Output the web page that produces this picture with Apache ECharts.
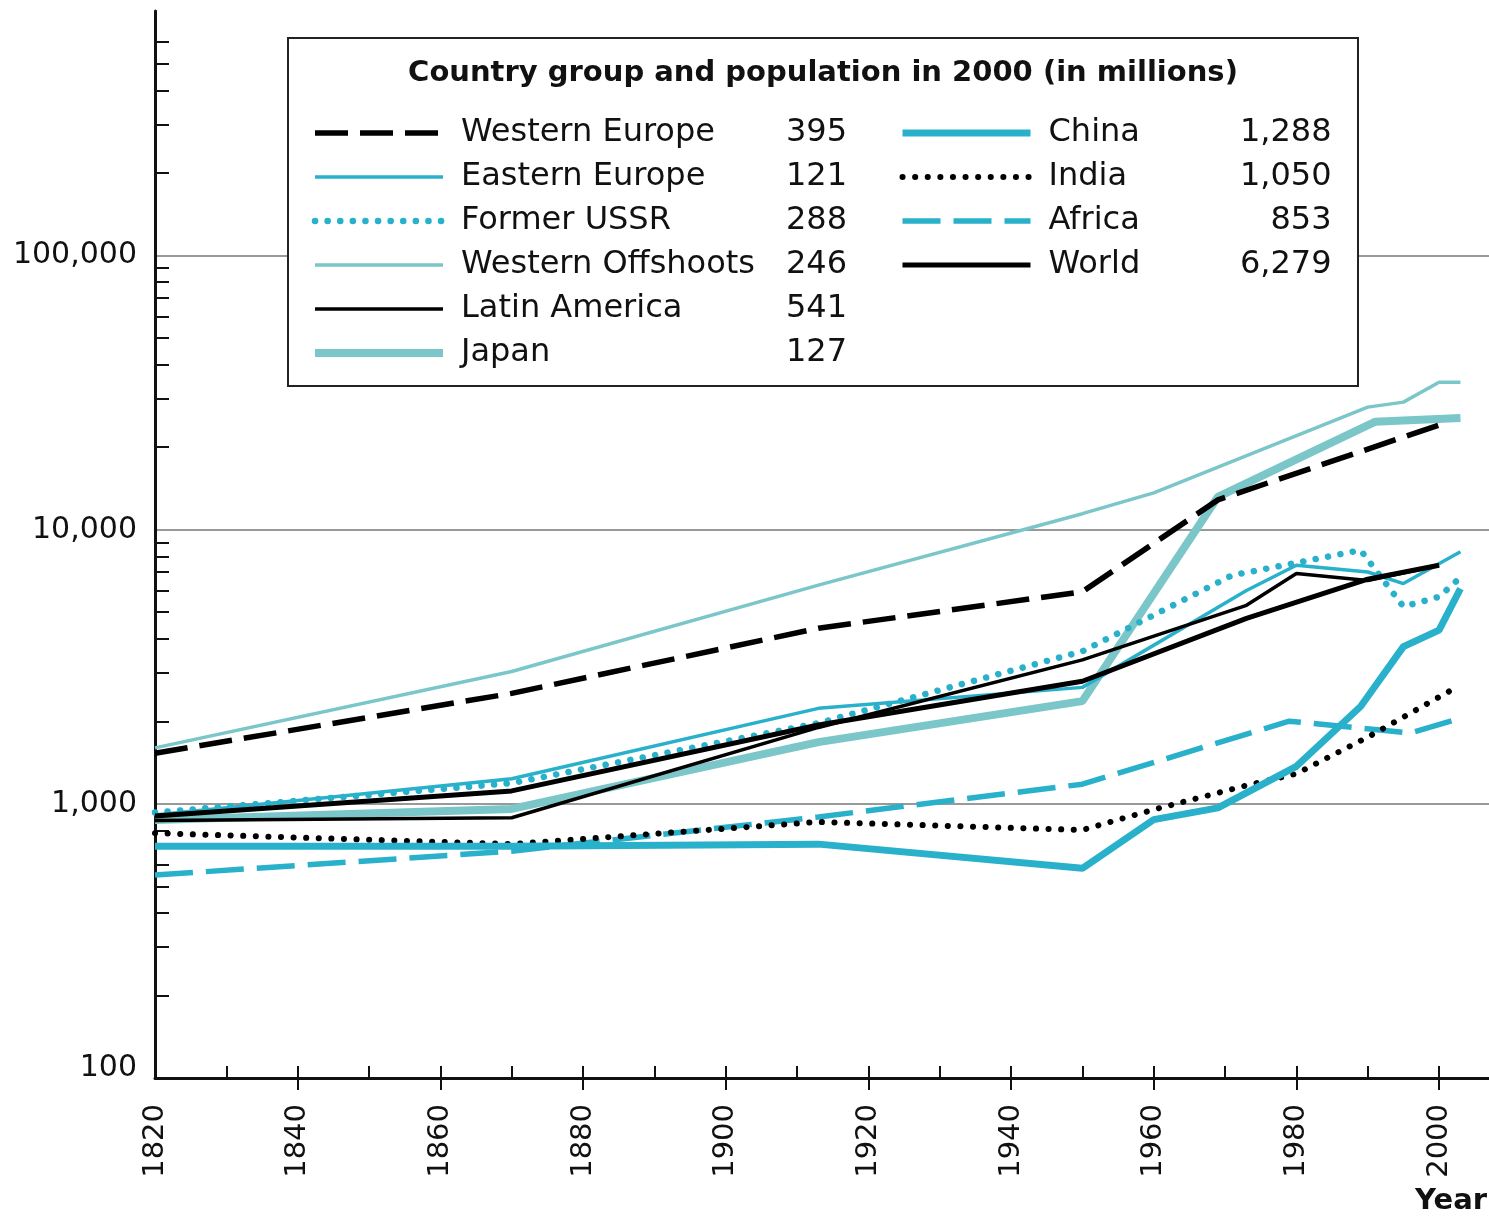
<!DOCTYPE html>
<html>
<head>
<meta charset="utf-8">
<title>Country group and population in 2000</title>
<script src="https://cdn.jsdelivr.net/npm/echarts@6/dist/echarts.min.js"></script>
<style>
  html, body { margin: 0; padding: 0; background: #fff; }
  #chart { width: 1489px; height: 1219px; }
</style>
</head>
<body>
<div id="chart"></div>
<script>
// legend: country group and population in 2000 (in millions)
const names = ['Western Europe', 'Eastern Europe', 'Former USSR', 'Western Offshoots', 'Latin America', 'Japan',
               'China', 'India', 'Africa', 'World'];
const population = ['395', '121', '288', '246', '541', '127', '1,288', '1,050', '853', '6,279'];

// values (log scale)
const westernEuropeYears = [1820, 1870, 1913, 1950, 1969, 2000];
const westernEuropeValues = [1530, 2530, 4370, 5940, 12850, 24100];

const easternEuropeYears = [1820, 1870, 1913, 1950, 1973, 1980, 1990, 1995, 2003];
const easternEuropeValues = [910, 1235, 2230, 2660, 6000, 7420, 7010, 6360, 8310];

const ussrYears = [1820, 1870, 1913, 1950, 1971, 1980, 1989, 1995, 2000, 2003];
const ussrValues = [930, 1190, 1970, 3600, 6820, 7570, 8420, 5240, 5690, 6700];

const offshootsYears = [1820, 1870, 1913, 1950, 1960, 1990, 1995, 2000, 2003];
const offshootsValues = [1600, 3040, 6280, 11440, 13630, 28000, 29200, 34500, 34500];

const latinAmericaYears = [1820, 1870, 1913, 1950, 1973, 1980, 1990, 2000];
const latinAmericaValues = [870, 890, 1900, 3350, 5300, 6920, 6530, 7420];

const japanYears = [1820, 1870, 1913, 1950, 1969, 1991, 2003];
const japanValues = [873, 958, 1680, 2370, 13180, 24750, 25540];

const chinaYears = [1820, 1870, 1913, 1950, 1960, 1969, 1980, 1989, 1995, 2000, 2003];
const chinaValues = [700, 700, 713, 582, 876, 967, 1371, 2265, 3745, 4305, 6100];

const indiaYears = [1820, 1870, 1913, 1950, 1960, 1973, 1980, 1990, 2002];
const indiaValues = [782, 713, 859, 803, 953, 1167, 1288, 1751, 2624];

const africaYears = [1820, 1870, 1913, 1950, 1979, 1996, 2003];
const africaValues = [550, 672, 896, 1180, 2003, 1812, 2055];

const worldYears = [1820, 1870, 1913, 1950, 1973, 1990, 2000];
const worldValues = [903, 1115, 1940, 2800, 4750, 6600, 7420];

// axis ticks
const xLabelYears = [1820, 1840, 1860, 1880, 1900, 1920, 1940, 1960, 1980, 2000];
const xInnerTicks = [1830, 1840, 1850, 1860, 1870, 1880, 1890, 1900, 1910, 1920, 1930, 1940, 1950,
                     1960, 1970, 1980, 1990, 2000];
const xOuterTicks = [1840, 1860, 1880, 1900, 1920, 1940, 1960, 1980, 2000];
const yLabelValues = [100, 1000, 10000, 100000];
const yMinorTicks = [200, 300, 400, 500, 600, 700, 800, 900,
                     2000, 3000, 4000, 5000, 6000, 7000, 8000, 9000,
                     20000, 30000, 40000, 50000, 60000, 70000, 80000, 90000,
                     200000, 300000, 400000, 500000, 600000];

const FONT = 'DejaVu Sans';
const INK = '#111';
const TEAL = '#29b1cc';
const LIGHT = '#7bc6c9';
const Y_MAX = 780000;

const styles = {
    'Western Europe':    { color: '#000', width: 5.5, type: [33, 12] },
    'Eastern Europe':    { color: TEAL, width: 3.5 },
    'Former USSR':       { color: TEAL, width: 6.5, type: [0.1, 12.5], cap: 'round' },
    'Western Offshoots': { color: LIGHT, width: 3.5 },
    'Latin America':     { color: '#000', width: 3.5 },
    'Japan':             { color: LIGHT, width: 8 },
    'China':             { color: TEAL, width: 7 },
    'India':             { color: '#000', width: 6, type: [0.1, 12.5], cap: 'round' },
    'Africa':            { color: TEAL, width: 5.5, type: [38, 13] },
    'World':             { color: '#000', width: 5 }
};

function makeSeries(name, years, values) {
    return {
        type: 'line',
        name: name,
        data: years.map((y, i) => [y, values[i]]),
        symbol: 'none',
        showSymbol: false,
        silent: true,
        lineStyle: styles[name]
    };
}

const popByName = {};
names.forEach((n, i) => { popByName[n] = population[i]; });

function legendBlock(list, left, nameWidth, valueWidth) {
    const txt = { fontFamily: FONT, fontSize: 32, color: INK, lineHeight: 32 };
    return {
        orient: 'vertical',
        left: left,
        top: 117,
        padding: 0,
        itemWidth: 128,
        itemHeight: 20,
        itemGap: 12,
        selectedMode: false,
        z: 10,
        itemStyle: { opacity: 0 },
        data: list.map(n => ({ name: n, lineStyle: { width: styles[n].width } })),
        formatter: n => '{n|' + n + '}{v|' + popByName[n] + '}',
        textStyle: {
            color: INK, fontFamily: FONT, fontSize: 32,
            padding: [0, 0, 0, 13],
            rich: {
                n: Object.assign({ width: nameWidth }, txt),
                v: Object.assign({ width: valueWidth, align: 'right' }, txt)
            }
        }
    };
}

function isDecade(v) {
    const l = Math.log10(v);
    return Math.abs(l - Math.round(l)) < 1e-6 && v <= 100000;
}

const chart = echarts.init(document.getElementById('chart'));

chart.setOption({
    animation: false,
    backgroundColor: '#fff',
    grid: { left: 155, right: 0, top: 11, bottom: 141, containLabel: false, outerBoundsMode: 'none' },
    xAxis: [
        {
            type: 'value', min: 1820, max: 2007, position: 'bottom',
            axisLine: { onZero: false, lineStyle: { color: INK, width: 3 } },
            axisTick: { inside: true, length: 12, customValues: xInnerTicks, lineStyle: { color: INK, width: 2 } },
            axisLabel: {
                customValues: xLabelYears, rotate: 90, margin: 26,
                fontFamily: FONT, fontSize: 29, color: INK,
                formatter: v => String(v)
            },
            splitLine: { show: false }
        },
        {
            type: 'value', min: 1820, max: 2007, position: 'bottom',
            axisLine: { show: false, onZero: false },
            axisTick: { inside: false, length: 12, customValues: xOuterTicks, lineStyle: { color: INK, width: 2 } },
            axisLabel: { show: false },
            splitLine: { show: false }
        }
    ],
    yAxis: [
        {
            type: 'log', logBase: 10, min: 100, max: Y_MAX, position: 'left',
            axisLine: { show: true, onZero: false, lineStyle: { color: INK, width: 3 } },
            axisTick: { show: false },
            axisLabel: {
                margin: 18, fontFamily: FONT, fontSize: 30, color: INK,
                showMaxLabel: false,
                formatter: v => {
                    if (!isDecade(v)) return '';
                    const r = Math.round(v);
                    return r === 100 ? '{lo|100}' : r.toLocaleString('en-US');
                },
                rich: { lo: { fontFamily: FONT, fontSize: 30, color: INK, padding: [0, 0, 20, 0] } }
            },
            splitLine: { show: true, showMinLine: false, showMaxLine: false, lineStyle: { color: '#999', width: 2 } }
        },
        {
            // minor ticks, placed in log10 space of the same axis
            type: 'value', min: 2, max: Math.log10(Y_MAX), position: 'left',
            axisLine: { show: false, onZero: false },
            axisTick: { show: true, inside: true, length: 14, customValues: yMinorTicks.map(v => Math.log10(v)),
                        lineStyle: { color: INK, width: 2 } },
            axisLabel: { show: false },
            splitLine: { show: false }
        }
    ],
    legend: [
        legendBlock(names.slice(0, 6), 311, 310, 76),
        legendBlock(names.slice(6), 899, 200, 83)
    ],
    graphic: [
        {
            type: 'rect', z: 3, silent: true,
            shape: { x: 288, y: 38, width: 1070, height: 348 },
            style: { fill: '#fff', stroke: '#222', lineWidth: 2 }
        },
        {
            type: 'text', z: 11, x: 823, y: 73, silent: true,
            style: {
                text: 'Country group and population in 2000 (in millions)',
                fontFamily: FONT, fontSize: 29, fontWeight: 'bold', fill: INK,
                align: 'center', verticalAlign: 'middle', textAlign: 'center', textVerticalAlign: 'middle'
            }
        },
        {
            type: 'text', z: 11, x: 1487, y: 1201, silent: true,
            style: {
                text: 'Year', fontFamily: FONT, fontSize: 29, fontWeight: 'bold', fill: INK,
                align: 'right', verticalAlign: 'middle', textAlign: 'right', textVerticalAlign: 'middle'
            }
        }
    ],
    series: [
        makeSeries('Japan', japanYears, japanValues),
        makeSeries('Western Offshoots', offshootsYears, offshootsValues),
        makeSeries('Eastern Europe', easternEuropeYears, easternEuropeValues),
        makeSeries('Former USSR', ussrYears, ussrValues),
        makeSeries('Latin America', latinAmericaYears, latinAmericaValues),
        makeSeries('World', worldYears, worldValues),
        makeSeries('Western Europe', westernEuropeYears, westernEuropeValues),
        makeSeries('Africa', africaYears, africaValues),
        makeSeries('India', indiaYears, indiaValues),
        makeSeries('China', chinaYears, chinaValues)
    ]
});
</script>
</body>
</html>
